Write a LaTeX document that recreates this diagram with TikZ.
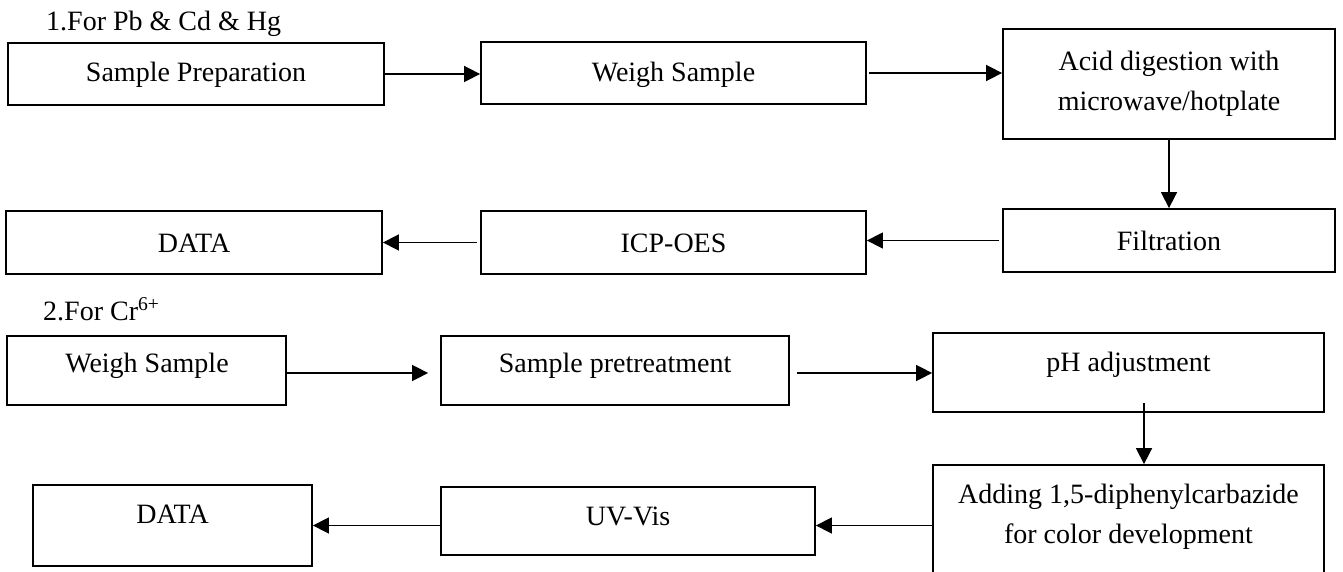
\documentclass[tikz,border=0pt]{standalone}
\usepackage{fontspec}
\setmainfont{Liberation Serif}
\usetikzlibrary{arrows.meta,fit}
\begin{document}
\begin{tikzpicture}[x=1pt,y=-1pt,
  box/.style={draw=black, line width=1.8pt, inner sep=0pt},
  txt/.style={inner sep=0pt, font=\fontsize{28}{40}\selectfont, anchor=base, align=center},
  arr/.style={line width=1.6pt, -{Triangle[length=16pt,width=16pt]}}]
\clip (0,0) rectangle (1343,572);
\fill[white] (0,0) rectangle (1343,572);
% titles
\node[txt, anchor=base west] (t1) at (46,31) {1.For Pb \& Cd \& Hg};
\node[txt, anchor=base west] (t2) at (43,320) {2.For Cr\textsuperscript{6+}};
% row 1
\node[box, fit={(8,43) (384,105)}] (sp) {};
\node[txt] (spT) at (196,82) {Sample Preparation};
\node[box, fit={(481,42) (866,104)}] (ws1) {};
\node[txt] (ws1T) at (673.5,82) {Weigh Sample};
\node[box, fit={(1003,29) (1335,139)}] (acid) {};
\node[txt, anchor=center] (acidT) at (1169,83.5) {Acid digestion with\\microwave/hotplate};
\node[box, fit={(1003,209) (1335,272)}] (filt) {};
\node[txt] (filtT) at (1169,250) {Filtration};
\node[box, fit={(481,211) (866,274)}] (icp) {};
\node[txt] (icpT) at (673.5,252) {ICP-OES};
\node[box, fit={(6,211) (382,274)}] (d1) {};
\node[txt] (d1T) at (194,252) {DATA};
% row 2
\node[box, fit={(7,336) (286,405)}] (ws2) {};
\node[txt] (ws2T) at (147,372) {Weigh Sample};
\node[box, fit={(441,336) (789,405)}] (pre) {};
\node[txt] (preT) at (615,372) {Sample pretreatment};
\node[box, fit={(933,333) (1324,412)}] (ph) {};
\node[txt] (phT) at (1128.5,371) {pH adjustment};
\node[box, fit={(933,465) (1324,580)}] (add) {};
\node[txt, anchor=center] (addT) at (1128.5,517) {Adding 1,5-diphenylcarbazide\\for color development};
\node[box, fit={(441,487) (815,555)}] (uv) {};
\node[txt] (uvT) at (628,525) {UV-Vis};
\node[box, fit={(33,485) (312,566)}] (d2) {};
\node[txt] (d2T) at (172.5,523) {DATA};
% arrows row 1
\draw[arr] (sp.east) -- (sp.east -| ws1.west);
\draw[arr, shorten <=2pt] (ws1.east) -- (ws1.east -| acid.west);
\draw[arr] (acid.south) -- (filt.north);
\draw[arr, shorten <=3pt] (filt.west) -- (filt.west -| icp.east);
\draw[arr, shorten <=3pt] (icp.west) -- (icp.west -| d1.east);
% arrows row 2
\draw[arr, shorten >=12pt] ([yshift=-2.5pt]ws2.east) -- ([yshift=-2.5pt]ws2.east -| pre.west);
\draw[arr, shorten <=7pt] ([yshift=-2.5pt]pre.east) -- ([yshift=-2.5pt]pre.east -| ph.west);
\coordinate (phd) at (1144,403);
\draw[arr] (phd) -- (phd |- add.north);
\draw[arr] ([yshift=-3pt]add.west) -- ([yshift=-3pt]add.west -| uv.east);
\draw[arr] (uv.west |- d2.east) -- (d2.east);
\end{tikzpicture}
\end{document}
